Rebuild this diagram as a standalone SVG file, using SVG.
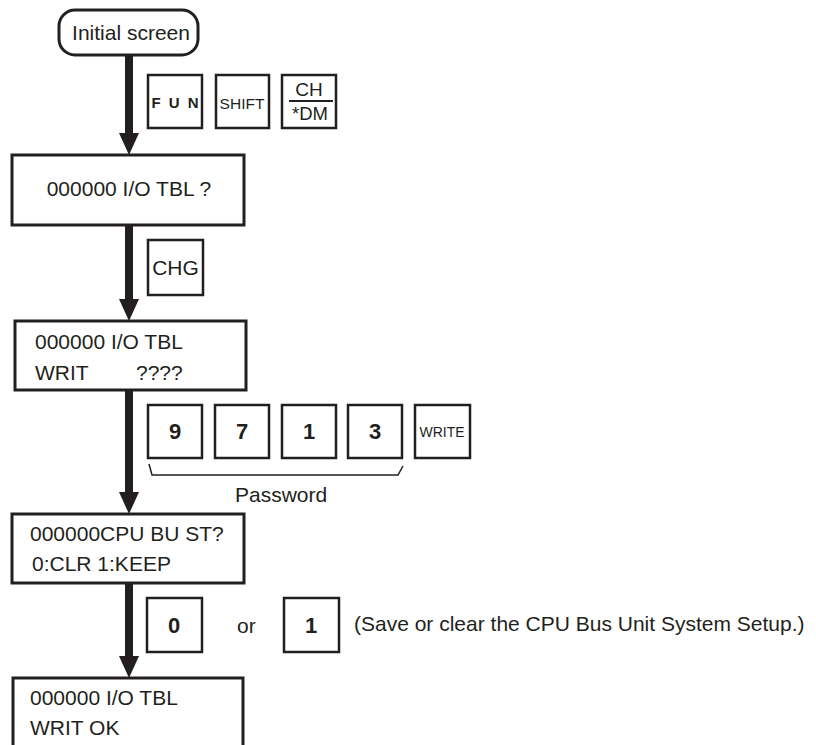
<svg xmlns="http://www.w3.org/2000/svg" width="816" height="745" viewBox="0 0 816 745">
<style>
  .box{fill:#fff;stroke:#231f20;stroke-width:3}
  .key{fill:#fff;stroke:#231f20;stroke-width:2.5}
  .t{font-family:"Liberation Sans",Arial,sans-serif;font-size:21px;fill:#231f20}
  .k{font-family:"Liberation Sans",Arial,sans-serif;fill:#231f20}
  .d{font-family:"Liberation Sans",Arial,sans-serif;font-size:22px;font-weight:bold;fill:#231f20;text-anchor:middle}
  .conn{stroke:#231f20;stroke-width:8;fill:none}
</style>
<defs>
  <marker id="ah" markerUnits="userSpaceOnUse" markerWidth="22" markerHeight="20" refX="0" refY="10" orient="auto">
    <path d="M0,0 L22,10 L0,20 z" fill="#231f20"/>
  </marker>
</defs>
<rect width="816" height="745" fill="#fff"/>

<g id="connectors">
  <line class="conn" x1="129" y1="56" x2="129" y2="133" marker-end="url(#ah)"/>
  <line class="conn" x1="129" y1="225" x2="129" y2="299" marker-end="url(#ah)"/>
  <line class="conn" x1="129" y1="390" x2="129" y2="492" marker-end="url(#ah)"/>
  <line class="conn" x1="129" y1="583" x2="129" y2="656" marker-end="url(#ah)"/>
</g>

<g id="initial">
  <rect class="box" x="59" y="10" width="139" height="45" rx="16" stroke-width="2"/>
  <text class="t" x="131" y="40" text-anchor="middle">Initial screen</text>
</g>

<g id="keys1">
  <rect class="key" x="148" y="75" width="54" height="53"/>
  <text class="k" x="176" y="108" font-size="15" font-weight="bold" text-anchor="middle" letter-spacing="2">F U N</text>
  <rect class="key" x="216" y="75" width="53" height="53"/>
  <text class="k" x="242" y="109" font-size="15.5" text-anchor="middle">SHIFT</text>
  <rect class="key" x="282" y="75" width="54" height="53"/>
  <text class="k" x="309" y="96" font-size="19" text-anchor="middle">CH</text>
  <line x1="289" y1="101" x2="333" y2="101" stroke="#231f20" stroke-width="2"/>
  <text class="k" x="310" y="120" font-size="18.5" text-anchor="middle">*DM</text>
</g>

<g id="box2">
  <rect class="box" x="12" y="155" width="232" height="70"/>
  <text class="t" x="129" y="196" text-anchor="middle">000000 I/O TBL ?</text>
</g>

<g id="key-chg">
  <rect class="key" x="148" y="240" width="55" height="55"/>
  <text class="k" x="175.5" y="275" font-size="21" text-anchor="middle">CHG</text>
</g>

<g id="box3">
  <rect class="box" x="15" y="321" width="231" height="69"/>
  <text class="t" x="35" y="349">000000 I/O TBL</text>
  <text class="t" x="35" y="380">WRIT</text>
  <text class="t" x="136" y="380">????</text>
</g>

<g id="keys2">
  <rect class="key" x="148" y="405" width="54" height="53"/>
  <text class="d" x="175" y="439">9</text>
  <rect class="key" x="215" y="405" width="54" height="53"/>
  <text class="d" x="242" y="439">7</text>
  <rect class="key" x="282" y="405" width="54" height="53"/>
  <text class="d" x="309" y="439">1</text>
  <rect class="key" x="348" y="405" width="54" height="53"/>
  <text class="d" x="375" y="439">3</text>
  <rect class="key" x="415" y="405" width="55" height="53"/>
  <text class="k" x="442" y="437" font-size="14" text-anchor="middle">WRITE</text>
</g>

<g id="password">
  <path d="M149,464 L152,475 L398,475 L403,466" fill="none" stroke="#231f20" stroke-width="1.5"/>
  <text class="t" x="235" y="502">Password</text>
</g>

<g id="box4">
  <rect class="box" x="12" y="514" width="232" height="69"/>
  <text class="t" x="30" y="541">000000CPU BU ST?</text>
  <text class="t" x="32" y="571">0:CLR 1:KEEP</text>
</g>

<g id="keys3">
  <rect class="key" x="147" y="598" width="55" height="54"/>
  <text class="d" x="174" y="633">0</text>
  <text class="t" x="237" y="633">or</text>
  <rect class="key" x="284" y="598" width="55" height="54"/>
  <text class="d" x="311" y="633">1</text>
  <text class="t" x="354" y="631">(Save or clear the CPU Bus Unit System Setup.)</text>
</g>

<g id="box5">
  <path class="box" d="M13,750 L13,678 L243,678 L243,750"/>
  <text class="t" x="30" y="705">000000 I/O TBL</text>
  <text class="t" x="30" y="735">WRIT OK</text>
</g>
</svg>
